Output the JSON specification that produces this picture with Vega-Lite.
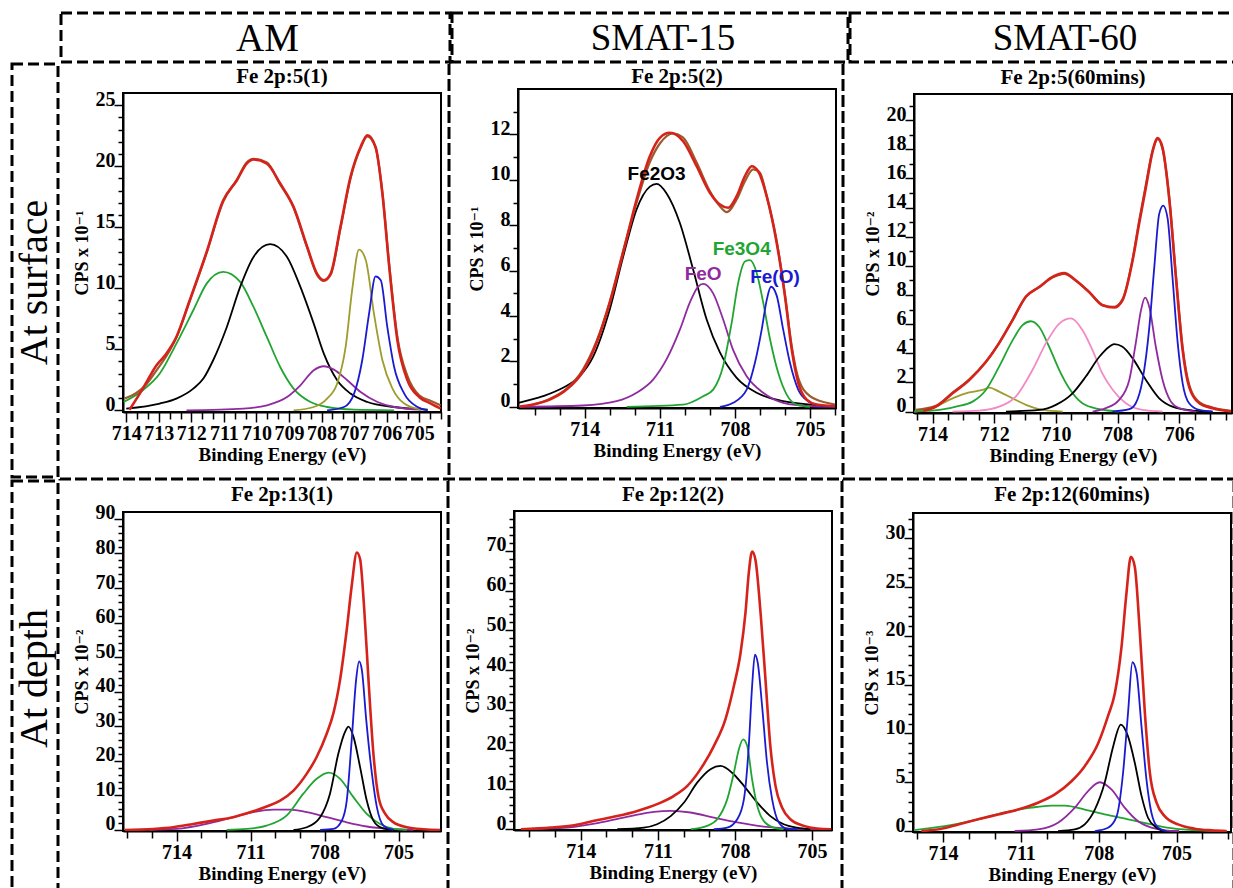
{
  "$schema": "https://vega.github.io/schema/vega-lite/v6.json",
  "padding": {"left": 10, "top": 11, "right": 0, "bottom": 0},
  "background": "white",
  "spacing": -3,
  "datasets": {
    "blank": [{"name": ""}],
    "p1": [
      {"comp":"green","be":714.08,"cps":0.68},{"comp":"green","be":713.49,"cps":1.64},{"comp":"green","be":712.97,"cps":3.01},{"comp":"green","be":712.46,"cps":5.46},{"comp":"green","be":711.94,"cps":8.2},{"comp":"green","be":711.53,"cps":10.38},{"comp":"green","be":711.02,"cps":11.34},{"comp":"green","be":710.5,"cps":10.52},{"comp":"green","be":710.09,"cps":8.47},{"comp":"green","be":709.68,"cps":6.01},{"comp":"green","be":709.27,"cps":3.55},{"comp":"green","be":708.86,"cps":1.78},{"comp":"green","be":708.34,"cps":0.68},{"comp":"green","be":707.83,"cps":0.27},{"comp":"green","be":707.0,"cps":0.05},{"comp":"green","be":705.77,"cps":0},
      {"comp":"black","be":714.0,"cps":0.14},{"comp":"black","be":712.97,"cps":0.55},{"comp":"black","be":712.46,"cps":0.96},{"comp":"black","be":711.94,"cps":1.78},{"comp":"black","be":711.63,"cps":2.6},{"comp":"black","be":711.33,"cps":4.1},{"comp":"black","be":710.91,"cps":6.83},{"comp":"black","be":710.5,"cps":10.11},{"comp":"black","be":710.09,"cps":12.57},{"comp":"black","be":709.58,"cps":13.61},{"comp":"black","be":709.06,"cps":12.57},{"comp":"black","be":708.65,"cps":10.11},{"comp":"black","be":708.24,"cps":7.1},{"comp":"black","be":707.93,"cps":4.64},{"comp":"black","be":707.52,"cps":2.46},{"comp":"black","be":707.11,"cps":1.37},{"comp":"black","be":706.59,"cps":0.68},{"comp":"black","be":705.77,"cps":0.27},{"comp":"black","be":704.74,"cps":0.05},
      {"comp":"purple","be":712.15,"cps":0},{"comp":"purple","be":710.4,"cps":0.14},{"comp":"purple","be":709.68,"cps":0.41},{"comp":"purple","be":709.06,"cps":1.09},{"comp":"purple","be":708.65,"cps":2.05},{"comp":"purple","be":708.24,"cps":3.28},{"comp":"purple","be":707.93,"cps":3.61},{"comp":"purple","be":707.62,"cps":3.33},{"comp":"purple","be":707.21,"cps":2.46},{"comp":"purple","be":706.8,"cps":1.5},{"comp":"purple","be":706.28,"cps":0.68},{"comp":"purple","be":705.77,"cps":0.27},{"comp":"purple","be":704.95,"cps":0.05},
      {"comp":"olive","be":708.86,"cps":0},{"comp":"olive","be":708.24,"cps":0.27},{"comp":"olive","be":707.83,"cps":0.96},{"comp":"olive","be":707.52,"cps":2.19},{"comp":"olive","be":707.26,"cps":5.19},{"comp":"olive","be":707.06,"cps":9.84},{"comp":"olive","be":706.85,"cps":13.17},{"comp":"olive","be":706.64,"cps":12.3},{"comp":"olive","be":706.39,"cps":7.92},{"comp":"olive","be":706.13,"cps":4.1},{"comp":"olive","be":705.82,"cps":1.78},{"comp":"olive","be":705.46,"cps":0.55},{"comp":"olive","be":704.95,"cps":0.05},
      {"comp":"blue","be":707.83,"cps":0},{"comp":"blue","be":707.31,"cps":0.27},{"comp":"blue","be":707.0,"cps":1.37},{"comp":"blue","be":706.75,"cps":4.1},{"comp":"blue","be":706.54,"cps":7.92},{"comp":"blue","be":706.34,"cps":10.98},{"comp":"blue","be":706.18,"cps":10.66},{"comp":"blue","be":705.98,"cps":6.83},{"comp":"blue","be":705.77,"cps":3.55},{"comp":"blue","be":705.46,"cps":1.37},{"comp":"blue","be":705.05,"cps":0.27},{"comp":"blue","be":704.74,"cps":0},
      {"comp":"brown","be":714.05,"cps":0.96},{"comp":"brown","be":713.69,"cps":1.42},{"comp":"brown","be":713.38,"cps":2.13},{"comp":"brown","be":713.07,"cps":3.28},{"comp":"brown","be":712.77,"cps":4.43},{"comp":"brown","be":712.46,"cps":5.96},{"comp":"brown","be":712.05,"cps":8.95},{"comp":"brown","be":711.53,"cps":12.9},{"comp":"brown","be":711.02,"cps":17.1},{"comp":"brown","be":710.6,"cps":18.9},{"comp":"brown","be":710.3,"cps":20.3},{"comp":"brown","be":710.09,"cps":20.6},{"comp":"brown","be":709.68,"cps":20.3},{"comp":"brown","be":709.27,"cps":18.5},{"comp":"brown","be":708.86,"cps":16.6},{"comp":"brown","be":708.44,"cps":13.3},{"comp":"brown","be":708.14,"cps":11.1},{"comp":"brown","be":707.93,"cps":10.6},{"comp":"brown","be":707.72,"cps":11.1},{"comp":"brown","be":707.42,"cps":14.9},{"comp":"brown","be":707.11,"cps":19.0},{"comp":"brown","be":706.8,"cps":21.5},{"comp":"brown","be":706.59,"cps":22.45},{"comp":"brown","be":706.34,"cps":21.5},{"comp":"brown","be":706.13,"cps":17.8},{"comp":"brown","be":705.92,"cps":11.9},{"comp":"brown","be":705.67,"cps":6.0},{"comp":"brown","be":705.36,"cps":2.8},{"comp":"brown","be":705.0,"cps":1.23},{"comp":"brown","be":704.64,"cps":0.77},{"comp":"brown","be":704.34,"cps":0.41},
      {"comp":"red","be":713.9,"cps":0.05},{"comp":"red","be":713.49,"cps":1.78},{"comp":"red","be":713.07,"cps":3.69},{"comp":"red","be":712.77,"cps":4.64},{"comp":"red","be":712.46,"cps":6.01},{"comp":"red","be":712.05,"cps":9.02},{"comp":"red","be":711.53,"cps":12.98},{"comp":"red","be":711.02,"cps":17.21},{"comp":"red","be":710.6,"cps":18.85},{"comp":"red","be":710.3,"cps":20.22},{"comp":"red","be":710.09,"cps":20.55},{"comp":"red","be":709.68,"cps":20.22},{"comp":"red","be":709.27,"cps":18.58},{"comp":"red","be":708.86,"cps":16.67},{"comp":"red","be":708.44,"cps":13.39},{"comp":"red","be":708.14,"cps":11.2},{"comp":"red","be":707.93,"cps":10.66},{"comp":"red","be":707.72,"cps":11.2},{"comp":"red","be":707.42,"cps":15.03},{"comp":"red","be":707.11,"cps":19.13},{"comp":"red","be":706.8,"cps":21.58},{"comp":"red","be":706.59,"cps":22.54},{"comp":"red","be":706.34,"cps":21.58},{"comp":"red","be":706.13,"cps":17.76},{"comp":"red","be":705.92,"cps":11.75},{"comp":"red","be":705.67,"cps":5.74},{"comp":"red","be":705.36,"cps":2.46},{"comp":"red","be":705.0,"cps":1.09},{"comp":"red","be":704.64,"cps":0.55},{"comp":"red","be":704.34,"cps":0.14}
    ],
    "p2": [
      {"comp":"black","be":716.65,"cps":0.18},{"comp":"black","be":715.67,"cps":0.47},{"comp":"black","be":714.87,"cps":0.84},{"comp":"black","be":714.2,"cps":1.35},{"comp":"black","be":713.67,"cps":2.2},{"comp":"black","be":713.0,"cps":4.3},{"comp":"black","be":712.47,"cps":6.6},{"comp":"black","be":711.93,"cps":8.7},{"comp":"black","be":711.4,"cps":9.7},{"comp":"black","be":711.13,"cps":9.82},{"comp":"black","be":710.73,"cps":9.4},{"comp":"black","be":710.2,"cps":8.1},{"comp":"black","be":709.67,"cps":6.05},{"comp":"black","be":709.13,"cps":3.85},{"comp":"black","be":708.6,"cps":2.4},{"comp":"black","be":707.93,"cps":1.28},{"comp":"black","be":707.13,"cps":0.62},{"comp":"black","be":706.07,"cps":0.25},{"comp":"black","be":705.0,"cps":0.1},{"comp":"black","be":704.07,"cps":0.03},
      {"comp":"purple","be":716.6,"cps":0},{"comp":"purple","be":714.07,"cps":0.06},{"comp":"purple","be":712.73,"cps":0.25},{"comp":"purple","be":711.93,"cps":0.62},{"comp":"purple","be":711.27,"cps":1.2},{"comp":"purple","be":710.73,"cps":2.1},{"comp":"purple","be":710.2,"cps":3.4},{"comp":"purple","be":709.8,"cps":4.6},{"comp":"purple","be":709.47,"cps":5.3},{"comp":"purple","be":709.27,"cps":5.42},{"comp":"purple","be":708.87,"cps":5.0},{"comp":"purple","be":708.47,"cps":3.85},{"comp":"purple","be":708.07,"cps":2.5},{"comp":"purple","be":707.53,"cps":1.35},{"comp":"purple","be":706.87,"cps":0.62},{"comp":"purple","be":706.07,"cps":0.18},{"comp":"purple","be":705.0,"cps":0.03},{"comp":"purple","be":704.0,"cps":0},
      {"comp":"green","be":712.33,"cps":0},{"comp":"green","be":710.07,"cps":0.1},{"comp":"green","be":709.27,"cps":0.47},{"comp":"green","be":708.87,"cps":0.76},{"comp":"green","be":708.47,"cps":1.8},{"comp":"green","be":708.13,"cps":3.7},{"comp":"green","be":707.87,"cps":5.46},{"comp":"green","be":707.6,"cps":6.4},{"comp":"green","be":707.4,"cps":6.46},{"comp":"green","be":707.13,"cps":5.9},{"comp":"green","be":706.87,"cps":4.6},{"comp":"green","be":706.6,"cps":3.0},{"comp":"green","be":706.27,"cps":1.5},{"comp":"green","be":705.93,"cps":0.54},{"comp":"green","be":705.53,"cps":0.1},{"comp":"green","be":705.0,"cps":0},
      {"comp":"blue","be":708.6,"cps":0},{"comp":"blue","be":708.07,"cps":0.18},{"comp":"blue","be":707.53,"cps":0.76},{"comp":"blue","be":707.2,"cps":1.94},{"comp":"blue","be":706.93,"cps":3.4},{"comp":"blue","be":706.73,"cps":4.7},{"comp":"blue","be":706.56,"cps":5.29},{"comp":"blue","be":706.33,"cps":4.9},{"comp":"blue","be":706.07,"cps":3.4},{"comp":"blue","be":705.8,"cps":1.94},{"comp":"blue","be":705.47,"cps":0.76},{"comp":"blue","be":705.07,"cps":0.25},{"comp":"blue","be":704.6,"cps":0.06},{"comp":"blue","be":704.0,"cps":0},
      {"comp":"brown","be":716.07,"cps":0.1},{"comp":"brown","be":715.4,"cps":0.35},{"comp":"brown","be":714.73,"cps":0.79},{"comp":"brown","be":714.07,"cps":1.65},{"comp":"brown","be":713.53,"cps":2.89},{"comp":"brown","be":713.0,"cps":4.65},{"comp":"brown","be":712.47,"cps":6.86},{"comp":"brown","be":711.93,"cps":8.99},{"comp":"brown","be":711.4,"cps":10.78},{"comp":"brown","be":711.0,"cps":11.6},{"comp":"brown","be":710.47,"cps":12.04},{"comp":"brown","be":710.07,"cps":11.86},{"comp":"brown","be":709.53,"cps":10.76},{"comp":"brown","be":709.0,"cps":9.5},{"comp":"brown","be":708.6,"cps":8.84},{"comp":"brown","be":708.33,"cps":8.58},{"comp":"brown","be":707.93,"cps":9.13},{"comp":"brown","be":707.6,"cps":9.94},{"comp":"brown","be":707.27,"cps":10.46},{"comp":"brown","be":707.0,"cps":10.31},{"comp":"brown","be":706.73,"cps":9.28},{"comp":"brown","be":706.33,"cps":7.3},{"comp":"brown","be":706.0,"cps":4.95},{"comp":"brown","be":705.73,"cps":2.67},{"comp":"brown","be":705.47,"cps":1.28},{"comp":"brown","be":705.0,"cps":0.47},{"comp":"brown","be":704.33,"cps":0.18},{"comp":"brown","be":704.0,"cps":0.1},
      {"comp":"red","be":716.6,"cps":0.01},{"comp":"red","be":716.07,"cps":0.1},{"comp":"red","be":715.4,"cps":0.32},{"comp":"red","be":714.73,"cps":0.76},{"comp":"red","be":714.07,"cps":1.57},{"comp":"red","be":713.53,"cps":2.82},{"comp":"red","be":713.0,"cps":4.58},{"comp":"red","be":712.47,"cps":6.78},{"comp":"red","be":711.93,"cps":9.13},{"comp":"red","be":711.4,"cps":11.04},{"comp":"red","be":711.0,"cps":11.85},{"comp":"red","be":710.6,"cps":12.07},{"comp":"red","be":710.07,"cps":11.7},{"comp":"red","be":709.53,"cps":10.6},{"comp":"red","be":709.0,"cps":9.43},{"comp":"red","be":708.6,"cps":8.91},{"comp":"red","be":708.27,"cps":8.77},{"comp":"red","be":707.93,"cps":9.28},{"comp":"red","be":707.6,"cps":10.16},{"comp":"red","be":707.33,"cps":10.6},{"comp":"red","be":707.07,"cps":10.38},{"comp":"red","be":706.73,"cps":9.28},{"comp":"red","be":706.33,"cps":7.22},{"comp":"red","be":706.0,"cps":4.88},{"comp":"red","be":705.73,"cps":2.53},{"comp":"red","be":705.47,"cps":1.06},{"comp":"red","be":705.13,"cps":0.32},{"comp":"red","be":704.73,"cps":0.1},{"comp":"red","be":704.0,"cps":0.03}
    ],
    "p2lab": [
      {"label":"Fe2O3","comp":"black","be":711.13,"cps":10.25},
      {"label":"FeO","comp":"purple","be":709.27,"cps":5.83},
      {"label":"Fe3O4","comp":"green","be":707.73,"cps":6.96},
      {"label":"Fe(O)","comp":"blue","be":706.4,"cps":5.73}
    ],
    "p3": [
      {"comp":"olive","be":714.59,"cps":0},{"comp":"olive","be":714.0,"cps":0.23},{"comp":"olive","be":713.46,"cps":0.8},{"comp":"olive","be":712.92,"cps":1.25},{"comp":"olive","be":712.38,"cps":1.48},{"comp":"olive","be":712.16,"cps":1.64},{"comp":"olive","be":711.84,"cps":1.37},{"comp":"olive","be":711.4,"cps":0.9},{"comp":"olive","be":710.97,"cps":0.46},{"comp":"olive","be":710.43,"cps":0.11},{"comp":"olive","be":709.78,"cps":0},
      {"comp":"green","be":714.59,"cps":0},{"comp":"green","be":713.78,"cps":0.11},{"comp":"green","be":713.24,"cps":0.34},{"comp":"green","be":712.7,"cps":0.68},{"comp":"green","be":712.27,"cps":1.48},{"comp":"green","be":711.84,"cps":3.08},{"comp":"green","be":711.4,"cps":4.9},{"comp":"green","be":711.08,"cps":5.93},{"comp":"green","be":710.81,"cps":6.2},{"comp":"green","be":710.54,"cps":5.8},{"comp":"green","be":710.22,"cps":4.45},{"comp":"green","be":709.89,"cps":2.85},{"comp":"green","be":709.57,"cps":1.6},{"comp":"green","be":709.14,"cps":0.57},{"comp":"green","be":708.59,"cps":0.16},{"comp":"green","be":707.95,"cps":0},
      {"comp":"pink","be":713.35,"cps":0},{"comp":"pink","be":712.49,"cps":0.07},{"comp":"pink","be":711.84,"cps":0.34},{"comp":"pink","be":711.3,"cps":1.03},{"comp":"pink","be":710.76,"cps":2.85},{"comp":"pink","be":710.32,"cps":4.7},{"comp":"pink","be":709.89,"cps":6.04},{"comp":"pink","be":709.51,"cps":6.39},{"comp":"pink","be":709.14,"cps":5.6},{"comp":"pink","be":708.81,"cps":4.2},{"comp":"pink","be":708.49,"cps":2.6},{"comp":"pink","be":708.16,"cps":1.5},{"comp":"pink","be":707.73,"cps":0.57},{"comp":"pink","be":707.19,"cps":0.11},{"comp":"pink","be":706.54,"cps":0},
      {"comp":"black","be":711.62,"cps":0},{"comp":"black","be":710.54,"cps":0.11},{"comp":"black","be":710.0,"cps":0.46},{"comp":"black","be":709.46,"cps":1.25},{"comp":"black","be":709.03,"cps":2.4},{"comp":"black","be":708.59,"cps":3.76},{"comp":"black","be":708.27,"cps":4.45},{"comp":"black","be":708.11,"cps":4.63},{"comp":"black","be":707.84,"cps":4.45},{"comp":"black","be":707.51,"cps":3.65},{"comp":"black","be":707.08,"cps":2.17},{"comp":"black","be":706.65,"cps":0.91},{"comp":"black","be":706.22,"cps":0.34},{"comp":"black","be":705.57,"cps":0.07},{"comp":"black","be":704.92,"cps":0},
      {"comp":"purple","be":708.81,"cps":0},{"comp":"purple","be":708.38,"cps":0.23},{"comp":"purple","be":707.95,"cps":0.8},{"comp":"purple","be":707.62,"cps":2.17},{"comp":"purple","be":707.41,"cps":4.7},{"comp":"purple","be":707.24,"cps":6.96},{"comp":"purple","be":707.11,"cps":7.82},{"comp":"purple","be":706.97,"cps":7.18},{"comp":"purple","be":706.76,"cps":4.45},{"comp":"purple","be":706.54,"cps":2.17},{"comp":"purple","be":706.27,"cps":0.68},{"comp":"purple","be":706.0,"cps":0.23},{"comp":"purple","be":705.46,"cps":0},
      {"comp":"blue","be":708.16,"cps":0},{"comp":"blue","be":707.62,"cps":0.16},{"comp":"blue","be":707.41,"cps":0.57},{"comp":"blue","be":707.19,"cps":2.17},{"comp":"blue","be":706.97,"cps":5.8},{"comp":"blue","be":706.81,"cps":9.9},{"comp":"blue","be":706.65,"cps":13.57},{"comp":"blue","be":706.52,"cps":14.14},{"comp":"blue","be":706.38,"cps":13.3},{"comp":"blue","be":706.22,"cps":9.24},{"comp":"blue","be":706.05,"cps":4.7},{"comp":"blue","be":705.89,"cps":1.94},{"comp":"blue","be":705.68,"cps":0.57},{"comp":"blue","be":705.35,"cps":0.11},{"comp":"blue","be":704.92,"cps":0},
      {"comp":"brown","be":714.54,"cps":0.12},{"comp":"brown","be":713.89,"cps":0.4},{"comp":"brown","be":713.35,"cps":1.3},{"comp":"brown","be":712.81,"cps":2.2},{"comp":"brown","be":712.27,"cps":3.42},{"comp":"brown","be":711.84,"cps":4.72},{"comp":"brown","be":711.4,"cps":6.3},{"comp":"brown","be":710.97,"cps":7.88},{"comp":"brown","be":710.54,"cps":8.55},{"comp":"brown","be":710.11,"cps":9.2},{"comp":"brown","be":709.73,"cps":9.45},{"comp":"brown","be":709.35,"cps":8.98},{"comp":"brown","be":708.92,"cps":8.2},{"comp":"brown","be":708.49,"cps":7.32},{"comp":"brown","be":708.11,"cps":7.18},{"comp":"brown","be":707.84,"cps":7.7},{"comp":"brown","be":707.51,"cps":10.5},{"comp":"brown","be":707.3,"cps":13.1},{"comp":"brown","be":707.08,"cps":15.6},{"comp":"brown","be":706.86,"cps":17.95},{"comp":"brown","be":706.7,"cps":18.7},{"comp":"brown","be":706.54,"cps":18.0},{"comp":"brown","be":706.32,"cps":14.6},{"comp":"brown","be":706.11,"cps":9.4},{"comp":"brown","be":705.89,"cps":4.4},{"comp":"brown","be":705.68,"cps":1.85},{"comp":"brown","be":705.35,"cps":0.65},{"comp":"brown","be":704.92,"cps":0.28},{"comp":"brown","be":704.32,"cps":0.05},
      {"comp":"red","be":714.3,"cps":0.05},{"comp":"red","be":713.89,"cps":0.34},{"comp":"red","be":713.35,"cps":1.25},{"comp":"red","be":712.81,"cps":2.17},{"comp":"red","be":712.27,"cps":3.4},{"comp":"red","be":711.84,"cps":4.7},{"comp":"red","be":711.4,"cps":6.3},{"comp":"red","be":710.97,"cps":7.9},{"comp":"red","be":710.54,"cps":8.55},{"comp":"red","be":710.11,"cps":9.24},{"comp":"red","be":709.73,"cps":9.5},{"comp":"red","be":709.35,"cps":9.0},{"comp":"red","be":708.92,"cps":8.2},{"comp":"red","be":708.49,"cps":7.3},{"comp":"red","be":708.11,"cps":7.14},{"comp":"red","be":707.84,"cps":7.64},{"comp":"red","be":707.51,"cps":10.4},{"comp":"red","be":707.3,"cps":12.9},{"comp":"red","be":707.08,"cps":15.4},{"comp":"red","be":706.86,"cps":17.9},{"comp":"red","be":706.7,"cps":18.77},{"comp":"red","be":706.54,"cps":18.1},{"comp":"red","be":706.32,"cps":14.5},{"comp":"red","be":706.11,"cps":9.24},{"comp":"red","be":705.89,"cps":4.2},{"comp":"red","be":705.68,"cps":1.7},{"comp":"red","be":705.35,"cps":0.57},{"comp":"red","be":704.92,"cps":0.23},{"comp":"red","be":704.32,"cps":0}
    ],
    "p4": [
      {"comp":"purple","be":715.1,"cps":0},{"comp":"purple","be":714.0,"cps":0.3},{"comp":"purple","be":712.78,"cps":1.75},{"comp":"purple","be":711.7,"cps":3.7},{"comp":"purple","be":710.89,"cps":5.14},{"comp":"purple","be":710.08,"cps":5.9},{"comp":"purple","be":709.4,"cps":5.9},{"comp":"purple","be":708.72,"cps":5.14},{"comp":"purple","be":707.91,"cps":3.7},{"comp":"purple","be":707.1,"cps":2.2},{"comp":"purple","be":706.29,"cps":1.0},{"comp":"purple","be":705.34,"cps":0.3},{"comp":"purple","be":704.39,"cps":0},
      {"comp":"green","be":711.97,"cps":0},{"comp":"green","be":711.16,"cps":0.3},{"comp":"green","be":710.35,"cps":1.26},{"comp":"green","be":709.53,"cps":4.2},{"comp":"green","be":708.86,"cps":10.5},{"comp":"green","be":708.32,"cps":14.8},{"comp":"green","be":707.84,"cps":16.6},{"comp":"green","be":707.37,"cps":14.8},{"comp":"green","be":706.83,"cps":9.5},{"comp":"green","be":706.29,"cps":4.65},{"comp":"green","be":705.75,"cps":1.75},{"comp":"green","be":705.2,"cps":0.3},{"comp":"green","be":704.66,"cps":0},
      {"comp":"black","be":709.26,"cps":0},{"comp":"black","be":708.72,"cps":0.78},{"comp":"black","be":708.18,"cps":3.7},{"comp":"black","be":707.78,"cps":10.5},{"comp":"black","be":707.44,"cps":22.1},{"comp":"black","be":707.17,"cps":28.4},{"comp":"black","be":707.03,"cps":29.9},{"comp":"black","be":706.83,"cps":27.0},{"comp":"black","be":706.56,"cps":18.2},{"comp":"black","be":706.29,"cps":8.5},{"comp":"black","be":706.02,"cps":2.7},{"comp":"black","be":705.68,"cps":0.6},{"comp":"black","be":705.2,"cps":0},
      {"comp":"blue","be":708.18,"cps":0},{"comp":"blue","be":707.64,"cps":0.3},{"comp":"blue","be":707.3,"cps":2.7},{"comp":"blue","be":707.1,"cps":8.5},{"comp":"blue","be":706.9,"cps":26.0},{"comp":"blue","be":706.72,"cps":43.5},{"comp":"blue","be":706.6,"cps":48.8},{"comp":"blue","be":706.49,"cps":46.4},{"comp":"blue","be":706.31,"cps":31.8},{"comp":"blue","be":706.08,"cps":16.3},{"comp":"blue","be":705.88,"cps":6.6},{"comp":"blue","be":705.61,"cps":1.26},{"comp":"blue","be":705.2,"cps":0},
      {"comp":"red","be":716.1,"cps":0},{"comp":"red","be":714.95,"cps":0.3},{"comp":"red","be":714.14,"cps":0.8},{"comp":"red","be":713.32,"cps":1.75},{"comp":"red","be":712.51,"cps":2.7},{"comp":"red","be":711.7,"cps":3.7},{"comp":"red","be":711.02,"cps":5.1},{"comp":"red","be":710.35,"cps":6.8},{"comp":"red","be":709.8,"cps":8.5},{"comp":"red","be":709.26,"cps":11.4},{"comp":"red","be":708.72,"cps":16.3},{"comp":"red","be":708.32,"cps":21.1},{"comp":"red","be":707.91,"cps":27.9},{"comp":"red","be":707.64,"cps":33.8},{"comp":"red","be":707.37,"cps":43.5},{"comp":"red","be":707.1,"cps":58.0},{"comp":"red","be":706.9,"cps":70.6},{"comp":"red","be":706.69,"cps":80.3},{"comp":"red","be":706.56,"cps":78.4},{"comp":"red","be":706.4,"cps":64.8},{"comp":"red","be":706.22,"cps":43.5},{"comp":"red","be":706.02,"cps":22.1},{"comp":"red","be":705.81,"cps":9.5},{"comp":"red","be":705.54,"cps":4.65},{"comp":"red","be":705.2,"cps":2.2},{"comp":"red","be":704.66,"cps":0.78},{"comp":"red","be":703.99,"cps":0.2},{"comp":"red","be":703.31,"cps":0}
    ],
    "p5": [
      {"comp":"purple","be":716.33,"cps":0},{"comp":"purple","be":714.52,"cps":0.4},{"comp":"purple","be":713.22,"cps":1.7},{"comp":"purple","be":712.06,"cps":3.3},{"comp":"purple","be":711.15,"cps":4.35},{"comp":"purple","be":710.5,"cps":4.6},{"comp":"purple","be":709.73,"cps":4.2},{"comp":"purple","be":708.82,"cps":2.9},{"comp":"purple","be":707.91,"cps":1.7},{"comp":"purple","be":706.88,"cps":0.67},{"comp":"purple","be":705.84,"cps":0.17},{"comp":"purple","be":704.8,"cps":0},
      {"comp":"black","be":712.58,"cps":0},{"comp":"black","be":711.54,"cps":0.4},{"comp":"black","be":711.03,"cps":1.25},{"comp":"black","be":710.5,"cps":3.3},{"comp":"black","be":709.98,"cps":6.7},{"comp":"black","be":709.47,"cps":11.7},{"comp":"black","be":708.95,"cps":15.1},{"comp":"black","be":708.56,"cps":15.9},{"comp":"black","be":708.11,"cps":14.2},{"comp":"black","be":707.65,"cps":10.9},{"comp":"black","be":707.13,"cps":6.7},{"comp":"black","be":706.62,"cps":3.3},{"comp":"black","be":706.1,"cps":1.25},{"comp":"black","be":705.58,"cps":0.4},{"comp":"black","be":705.06,"cps":0},
      {"comp":"green","be":709.72,"cps":0},{"comp":"green","be":709.08,"cps":0.84},{"comp":"green","be":708.69,"cps":2.5},{"comp":"green","be":708.3,"cps":7.5},{"comp":"green","be":708.04,"cps":14.2},{"comp":"green","be":707.85,"cps":20.0},{"comp":"green","be":707.68,"cps":22.6},{"comp":"green","be":707.52,"cps":20.9},{"comp":"green","be":707.33,"cps":12.5},{"comp":"green","be":707.13,"cps":5.9},{"comp":"green","be":706.88,"cps":2.1},{"comp":"green","be":706.49,"cps":0.4},{"comp":"green","be":706.1,"cps":0},
      {"comp":"blue","be":708.82,"cps":0},{"comp":"blue","be":708.3,"cps":0.4},{"comp":"blue","be":707.91,"cps":2.5},{"comp":"blue","be":707.65,"cps":7.5},{"comp":"blue","be":707.46,"cps":20.9},{"comp":"blue","be":707.33,"cps":36.0},{"comp":"blue","be":707.22,"cps":43.9},{"comp":"blue","be":707.11,"cps":41.8},{"comp":"blue","be":706.94,"cps":30.9},{"comp":"blue","be":706.75,"cps":16.7},{"comp":"blue","be":706.55,"cps":7.5},{"comp":"blue","be":706.29,"cps":1.7},{"comp":"blue","be":705.97,"cps":0.17},{"comp":"blue","be":705.58,"cps":0},
      {"comp":"red","be":716.33,"cps":0},{"comp":"red","be":715.17,"cps":0.4},{"comp":"red","be":714.26,"cps":1.0},{"comp":"red","be":713.48,"cps":2.1},{"comp":"red","be":712.58,"cps":3.3},{"comp":"red","be":711.8,"cps":4.6},{"comp":"red","be":711.03,"cps":6.3},{"comp":"red","be":710.37,"cps":8.4},{"comp":"red","be":709.85,"cps":10.9},{"comp":"red","be":709.34,"cps":15.1},{"comp":"red","be":708.82,"cps":20.9},{"comp":"red","be":708.37,"cps":27.6},{"comp":"red","be":708.04,"cps":36.0},{"comp":"red","be":707.78,"cps":44.3},{"comp":"red","be":707.59,"cps":54.3},{"comp":"red","be":707.46,"cps":64.4},{"comp":"red","be":707.33,"cps":69.8},{"comp":"red","be":707.2,"cps":67.7},{"comp":"red","be":707.0,"cps":54.3},{"comp":"red","be":706.81,"cps":37.6},{"comp":"red","be":706.62,"cps":20.9},{"comp":"red","be":706.42,"cps":10.9},{"comp":"red","be":706.16,"cps":5.4},{"comp":"red","be":705.84,"cps":2.5},{"comp":"red","be":705.32,"cps":0.84},{"comp":"red","be":704.8,"cps":0.17},{"comp":"red","be":704.25,"cps":0}
    ],
    "p6": [
      {"comp":"green","be":715.1,"cps":0.1},{"comp":"green","be":713.94,"cps":0.5},{"comp":"green","be":712.65,"cps":1.2},{"comp":"green","be":711.62,"cps":1.9},{"comp":"green","be":710.59,"cps":2.4},{"comp":"green","be":709.82,"cps":2.6},{"comp":"green","be":709.31,"cps":2.6},{"comp":"green","be":708.54,"cps":2.2},{"comp":"green","be":707.77,"cps":1.7},{"comp":"green","be":706.87,"cps":1.2},{"comp":"green","be":705.97,"cps":0.68},{"comp":"green","be":705.07,"cps":0.24},{"comp":"green","be":704.17,"cps":0.07},{"comp":"green","be":703.07,"cps":0},
      {"comp":"purple","be":711.24,"cps":0},{"comp":"purple","be":710.34,"cps":0.17},{"comp":"purple","be":709.57,"cps":0.85},{"comp":"purple","be":708.92,"cps":2.4},{"comp":"purple","be":708.41,"cps":4.1},{"comp":"purple","be":707.96,"cps":5.0},{"comp":"purple","be":707.51,"cps":4.26},{"comp":"purple","be":707.0,"cps":2.4},{"comp":"purple","be":706.48,"cps":1.0},{"comp":"purple","be":705.97,"cps":0.34},{"comp":"purple","be":705.45,"cps":0.07},{"comp":"purple","be":704.9,"cps":0},
      {"comp":"black","be":709.57,"cps":0},{"comp":"black","be":708.92,"cps":0.17},{"comp":"black","be":708.54,"cps":0.68},{"comp":"black","be":708.15,"cps":2.2},{"comp":"black","be":707.77,"cps":4.95},{"comp":"black","be":707.44,"cps":8.7},{"comp":"black","be":707.15,"cps":10.9},{"comp":"black","be":706.87,"cps":9.7},{"comp":"black","be":706.61,"cps":7.0},{"comp":"black","be":706.35,"cps":3.6},{"comp":"black","be":706.1,"cps":1.36},{"comp":"black","be":705.77,"cps":0.34},{"comp":"black","be":705.45,"cps":0},
      {"comp":"blue","be":708.15,"cps":0},{"comp":"blue","be":707.64,"cps":0.34},{"comp":"blue","be":707.31,"cps":1.5},{"comp":"blue","be":707.06,"cps":6.0},{"comp":"blue","be":706.87,"cps":12.1},{"comp":"blue","be":706.7,"cps":17.3},{"comp":"blue","be":706.54,"cps":16.2},{"comp":"blue","be":706.35,"cps":10.7},{"comp":"blue","be":706.16,"cps":5.3},{"comp":"blue","be":705.97,"cps":1.9},{"comp":"blue","be":705.71,"cps":0.34},{"comp":"blue","be":705.39,"cps":0},
      {"comp":"red","be":714.84,"cps":0},{"comp":"red","be":714.06,"cps":0.24},{"comp":"red","be":713.42,"cps":0.68},{"comp":"red","be":712.65,"cps":1.2},{"comp":"red","be":711.88,"cps":1.7},{"comp":"red","be":711.11,"cps":2.2},{"comp":"red","be":710.34,"cps":2.9},{"comp":"red","be":709.69,"cps":3.75},{"comp":"red","be":709.05,"cps":5.1},{"comp":"red","be":708.54,"cps":6.65},{"comp":"red","be":708.02,"cps":9.0},{"comp":"red","be":707.64,"cps":11.8},{"comp":"red","be":707.38,"cps":14.1},{"comp":"red","be":707.12,"cps":18.9},{"comp":"red","be":706.93,"cps":24.4},{"comp":"red","be":706.76,"cps":28.1},{"comp":"red","be":706.61,"cps":27.1},{"comp":"red","be":706.42,"cps":20.6},{"comp":"red","be":706.22,"cps":12.1},{"comp":"red","be":706.03,"cps":6.0},{"comp":"red","be":705.77,"cps":2.9},{"comp":"red","be":705.45,"cps":1.5},{"comp":"red","be":704.94,"cps":0.68},{"comp":"red","be":704.3,"cps":0.24},{"comp":"red","be":703.65,"cps":0.07},{"comp":"red","be":703.07,"cps":0}
    ]
  },
  "vconcat": [
    {
      "spacing": -6,
      "hconcat": [
        {"width": 49, "height": 49, "data": {"name": "blank"}, "mark": {"type": "text", "fontSize": 0}, "encoding": {"text": {"field": "name"}}, "view": {"stroke": null}},
        {"width": 389, "height": 49, "data": {"values": [{"name": "AM"}]}, "mark": {"type": "text", "font": "Liberation Serif", "fontSize": 39, "dx": 12, "dy": 1, "color": "black"}, "encoding": {"text": {"field": "name"}}, "view": {"stroke": "black", "strokeWidth": 3, "strokeDash": [11, 5]}},
        {"width": 396, "height": 49, "data": {"values": [{"name": "SMAT-15"}]}, "mark": {"type": "text", "font": "Liberation Serif", "fontSize": 37, "dx": 13, "dy": 1, "color": "black"}, "encoding": {"text": {"field": "name"}}, "view": {"stroke": "black", "strokeWidth": 3, "strokeDash": [11, 5]}},
        {"width": 388, "height": 49, "data": {"values": [{"name": "SMAT-60"}]}, "mark": {"type": "text", "font": "Liberation Serif", "fontSize": 37, "dx": 21, "dy": 1, "color": "black"}, "encoding": {"text": {"field": "name"}}, "view": {"stroke": "black", "strokeWidth": 3, "strokeDash": [11, 5]}}
      ]
    },
    {
      "spacing": 0,
      "hconcat": [
        {"width": 46, "height": 413, "data": {"values": [{"name": "At surface"}]}, "mark": {"type": "text", "font": "Liberation Serif", "fontSize": 40, "angle": 270, "dx": -12, "color": "black"}, "encoding": {"text": {"field": "name"}}, "view": {"stroke": "black", "strokeWidth": 3, "strokeDash": [11, 5]}},
        {"width": 12, "height": 1, "data": {"name": "blank"}, "mark": {"type": "text", "fontSize": 0}, "encoding": {"text": {"field": "name"}}, "view": {"stroke": null}},
        {"spacing": 0, "vconcat": [
          {"width": 1, "height": 1, "data": {"name": "blank"}, "mark": {"type": "text", "fontSize": 0}, "encoding": {"text": {"field": "name"}}, "view": {"stroke": null}},
          {
            "width": 318, "height": 319,
            "title": {"text": "Fe 2p:5(1)", "offset": 2},
            "data": {"name": "p1"},
            "encoding": {
              "x": {"field": "be", "type": "quantitative", "scale": {"domain": [704.33, 714.1], "reverse": true, "nice": false, "zero": false},
                    "axis": {"orient": "bottom", "title": "Binding Energy (eV)", "values": [704.333,704.667,705,705.333,705.667,706,706.333,706.667,707,707.333,707.667,708,708.333,708.667,709,709.333,709.667,710,710.333,710.667,711,711.333,711.667,712,712.333,712.667,713,713.333,713.667,714],
                             "labelExpr": "abs(datum.value - round(datum.value)) < 0.01 ? format(datum.value, 'd') : ''",
                             "tickSize": {"condition": {"test": "abs(datum.value - round(datum.value)) < 0.01", "value": 10}, "value": 7},
                             "labelPadding": 1, "titlePadding": 2}},
              "y": {"field": "cps", "type": "quantitative", "scale": {"domain": [-0.14, 26], "nice": false, "zero": false},
                    "axis": {"orient": "left", "title": "CPS x 10⁻¹", "values": [0,1,2,3,4,5,6,7,8,9,10,11,12,13,14,15,16,17,18,19,20,21,22,23,24,25],
                             "labelExpr": "datum.value % 5 === 0 ? datum.label : ''",
                             "tickSize": {"condition": {"test": "datum.value % 5 === 0", "value": 9}, "value": 5},
                             "labelBaseline": "alphabetic", "labelPadding": -1, "titlePadding": 4}},
              "color": {"field": "comp", "type": "nominal", "legend": null, "scale": {"domain": ["red","brown","black","green","purple","olive","blue","pink"], "range": ["#d5231b","#9c5b2e","#000000","#21a532","#8f2a9f","#9e9c2c","#1a1ad0","#f28ac6"]}}
            },
            "layer": [
              {"transform": [{"filter": "datum.comp !== 'red' && datum.comp !== 'brown'"}], "mark": {"type": "line", "interpolate": "monotone", "strokeWidth": 1.8, "clip": true}},
              {"transform": [{"filter": "datum.comp === 'brown'"}], "mark": {"type": "line", "interpolate": "monotone", "strokeWidth": 2.2, "clip": true}},
              {"transform": [{"filter": "datum.comp === 'red'"}], "mark": {"type": "line", "interpolate": "monotone", "strokeWidth": 2.6, "clip": true}}
            ]
          }
        ]},
        {"width": 3.5, "height": 1, "data": {"name": "blank"}, "mark": {"type": "text", "fontSize": 0}, "encoding": {"text": {"field": "name"}}, "view": {"stroke": null}},
        {"width": 0.01, "height": 413, "data": {"name": "blank"}, "mark": {"type": "text", "fontSize": 0}, "encoding": {"text": {"field": "name"}}, "view": {"stroke": "black", "strokeWidth": 3, "strokeDash": [11, 5]}},
        {"width": 15.5, "height": 1, "data": {"name": "blank"}, "mark": {"type": "text", "fontSize": 0}, "encoding": {"text": {"field": "name"}}, "view": {"stroke": null}},
        {"spacing": 0, "vconcat": [
          {"width": 1, "height": 1, "data": {"name": "blank"}, "mark": {"type": "text", "fontSize": 0}, "encoding": {"text": {"field": "name"}}, "view": {"stroke": null}},
          {
            "width": 318, "height": 319,
            "title": {"text": "Fe 2p:5(2)", "offset": 2},
            "data": {"name": "p2"},
            "encoding": {
              "x": {"field": "be", "type": "quantitative", "scale": {"domain": [703.96, 716.67], "reverse": true, "nice": false, "zero": false},
                    "axis": {"orient": "bottom", "title": "Binding Energy (eV)", "values": [704,705,706,707,708,709,710,711,712,713,714,715,716],
                             "labelExpr": "(datum.value - 705) % 3 === 0 ? datum.label : ''",
                             "tickSize": {"condition": {"test": "(datum.value - 705) % 3 === 0", "value": 10}, "value": 7},
                             "labelPadding": 1, "titlePadding": 2}},
              "y": {"field": "cps", "type": "quantitative", "scale": {"domain": [-0.05, 14], "nice": false, "zero": false},
                    "axis": {"orient": "left", "title": "CPS x 10⁻¹", "values": [0,1,2,3,4,5,6,7,8,9,10,11,12,13],
                             "labelExpr": "datum.value % 2 === 0 ? datum.label : ''",
                             "tickSize": {"condition": {"test": "datum.value % 2 === 0", "value": 9}, "value": 5},
                             "labelBaseline": "alphabetic", "labelPadding": -1, "titlePadding": 4}},
              "color": {"field": "comp", "type": "nominal", "legend": null, "scale": {"domain": ["red","brown","black","green","purple","olive","blue","pink"], "range": ["#d5231b","#9c5b2e","#000000","#21a532","#8f2a9f","#9e9c2c","#1a1ad0","#f28ac6"]}}
            },
            "layer": [
              {"transform": [{"filter": "datum.comp !== 'red' && datum.comp !== 'brown'"}], "mark": {"type": "line", "interpolate": "monotone", "strokeWidth": 1.8, "clip": true}},
              {"transform": [{"filter": "datum.comp === 'brown'"}], "mark": {"type": "line", "interpolate": "monotone", "strokeWidth": 2.2, "clip": true}},
              {"transform": [{"filter": "datum.comp === 'red'"}], "mark": {"type": "line", "interpolate": "monotone", "strokeWidth": 2.6, "clip": true}},
              {"data": {"name": "p2lab"}, "mark": {"type": "text", "font": "Liberation Sans", "fontWeight": "bold", "fontSize": 19, "clip": false}, "encoding": {"text": {"field": "label"}}}
            ]
          }
        ]},
        {"width": 3.5, "height": 1, "data": {"name": "blank"}, "mark": {"type": "text", "fontSize": 0}, "encoding": {"text": {"field": "name"}}, "view": {"stroke": null}},
        {"width": 0.01, "height": 413, "data": {"name": "blank"}, "mark": {"type": "text", "fontSize": 0}, "encoding": {"text": {"field": "name"}}, "view": {"stroke": "black", "strokeWidth": 3, "strokeDash": [11, 5]}},
        {"width": 17.5, "height": 1, "data": {"name": "blank"}, "mark": {"type": "text", "fontSize": 0}, "encoding": {"text": {"field": "name"}}, "view": {"stroke": null}},
        {"spacing": 0, "vconcat": [
          {"width": 1, "height": 1, "data": {"name": "blank"}, "mark": {"type": "text", "fontSize": 0}, "encoding": {"text": {"field": "name"}}, "view": {"stroke": null}},
          {
            "width": 318, "height": 319,
            "title": {"text": "Fe 2p:5(60mins)", "offset": 2},
            "data": {"name": "p3"},
            "encoding": {
              "x": {"field": "be", "type": "quantitative", "scale": {"domain": [704.29, 714.6], "reverse": true, "nice": false, "zero": false},
                    "axis": {"orient": "bottom", "title": "Binding Energy (eV)", "values": [704.5,705,705.5,706,706.5,707,707.5,708,708.5,709,709.5,710,710.5,711,711.5,712,712.5,713,713.5,714,714.5],
                             "labelExpr": "datum.value % 2 === 0 ? format(datum.value, 'd') : ''",
                             "tickSize": {"condition": {"test": "datum.value % 2 === 0", "value": 10}, "value": 7},
                             "labelPadding": 1, "titlePadding": 2}},
              "y": {"field": "cps", "type": "quantitative", "scale": {"domain": [-0.1, 21.8], "nice": false, "zero": false},
                    "axis": {"orient": "left", "title": "CPS x 10⁻²", "values": [0,1,2,3,4,5,6,7,8,9,10,11,12,13,14,15,16,17,18,19,20,21],
                             "labelExpr": "datum.value % 2 === 0 ? datum.label : ''",
                             "tickSize": {"condition": {"test": "datum.value % 2 === 0", "value": 9}, "value": 5},
                             "labelBaseline": "alphabetic", "labelPadding": -1, "titlePadding": 4}},
              "color": {"field": "comp", "type": "nominal", "legend": null, "scale": {"domain": ["red","brown","black","green","purple","olive","blue","pink"], "range": ["#d5231b","#9c5b2e","#000000","#21a532","#8f2a9f","#9e9c2c","#1a1ad0","#f28ac6"]}}
            },
            "layer": [
              {"transform": [{"filter": "datum.comp !== 'red' && datum.comp !== 'brown'"}], "mark": {"type": "line", "interpolate": "monotone", "strokeWidth": 1.8, "clip": true}},
              {"transform": [{"filter": "datum.comp === 'brown'"}], "mark": {"type": "line", "interpolate": "monotone", "strokeWidth": 2.2, "clip": true}},
              {"transform": [{"filter": "datum.comp === 'red'"}], "mark": {"type": "line", "interpolate": "monotone", "strokeWidth": 2.6, "clip": true}}
            ]
          }
        ]},
        {"width": 0.01, "height": 413, "data": {"name": "blank"}, "mark": {"type": "text", "fontSize": 0}, "encoding": {"text": {"field": "name"}}, "view": {"stroke": "black", "strokeWidth": 3, "strokeDash": [11, 5]}}
      ]
    },
    {
      "spacing": 0,
      "hconcat": [
        {"width": 46, "height": 1, "data": {"name": "blank"}, "mark": {"type": "text", "fontSize": 0}, "encoding": {"text": {"field": "name"}}, "view": {"stroke": null}},
        {"width": 1173, "height": 0.01, "data": {"name": "blank"}, "mark": {"type": "text", "fontSize": 0}, "encoding": {"text": {"field": "name"}}, "view": {"stroke": "black", "strokeWidth": 3, "strokeDash": [11, 5]}}
      ]
    },
    {
      "spacing": 0,
      "hconcat": [
        {"width": 46, "height": 413, "data": {"values": [{"name": "At depth"}]}, "mark": {"type": "text", "font": "Liberation Serif", "fontSize": 40, "angle": 270, "dx": 9, "color": "black"}, "encoding": {"text": {"field": "name"}}, "view": {"stroke": "black", "strokeWidth": 3, "strokeDash": [11, 5]}},
        {"width": 12, "height": 1, "data": {"name": "blank"}, "mark": {"type": "text", "fontSize": 0}, "encoding": {"text": {"field": "name"}}, "view": {"stroke": null}},
        {"spacing": 0, "vconcat": [
          {"width": 1, "height": 0.5, "data": {"name": "blank"}, "mark": {"type": "text", "fontSize": 0}, "encoding": {"text": {"field": "name"}}, "view": {"stroke": null}},
          {
            "width": 318, "height": 319,
            "title": {"text": "Fe 2p:13(1)", "offset": -2},
            "data": {"name": "p4"},
            "encoding": {
              "x": {"field": "be", "type": "quantitative", "scale": {"domain": [703.28, 716.17], "reverse": true, "nice": false, "zero": false},
                    "axis": {"orient": "bottom", "title": "Binding Energy (eV)", "values": [704,705,706,707,708,709,710,711,712,713,714,715,716],
                             "labelExpr": "(datum.value - 705) % 3 === 0 ? datum.label : ''",
                             "tickSize": {"condition": {"test": "(datum.value - 705) % 3 === 0", "value": 10}, "value": 7},
                             "labelPadding": 1, "titlePadding": 2}},
              "y": {"field": "cps", "type": "quantitative", "scale": {"domain": [-0.3, 92], "nice": false, "zero": false},
                    "axis": {"orient": "left", "title": "CPS x 10⁻²", "values": [0,2,4,6,8,10,12,14,16,18,20,22,24,26,28,30,32,34,36,38,40,42,44,46,48,50,52,54,56,58,60,62,64,66,68,70,72,74,76,78,80,82,84,86,88,90],
                             "labelExpr": "datum.value % 10 === 0 ? datum.label : ''",
                             "tickSize": {"condition": {"test": "datum.value % 10 === 0", "value": 9}, "value": 5},
                             "labelBaseline": "alphabetic", "labelPadding": -1, "titlePadding": 4}},
              "color": {"field": "comp", "type": "nominal", "legend": null, "scale": {"domain": ["red","brown","black","green","purple","olive","blue","pink"], "range": ["#d5231b","#9c5b2e","#000000","#21a532","#8f2a9f","#9e9c2c","#1a1ad0","#f28ac6"]}}
            },
            "layer": [
              {"transform": [{"filter": "datum.comp !== 'red' && datum.comp !== 'brown'"}], "mark": {"type": "line", "interpolate": "monotone", "strokeWidth": 1.8, "clip": true}},
              {"transform": [{"filter": "datum.comp === 'red'"}], "mark": {"type": "line", "interpolate": "monotone", "strokeWidth": 2.6, "clip": true}}
            ]
          }
        ]},
        {"width": 3.5, "height": 1, "data": {"name": "blank"}, "mark": {"type": "text", "fontSize": 0}, "encoding": {"text": {"field": "name"}}, "view": {"stroke": null}},
        {"width": 0.01, "height": 413, "data": {"name": "blank"}, "mark": {"type": "text", "fontSize": 0}, "encoding": {"text": {"field": "name"}}, "view": {"stroke": "black", "strokeWidth": 3, "strokeDash": [11, 5]}},
        {"width": 12.5, "height": 1, "data": {"name": "blank"}, "mark": {"type": "text", "fontSize": 0}, "encoding": {"text": {"field": "name"}}, "view": {"stroke": null}},
        {"spacing": 0, "vconcat": [
          {"width": 1, "height": 0.5, "data": {"name": "blank"}, "mark": {"type": "text", "fontSize": 0}, "encoding": {"text": {"field": "name"}}, "view": {"stroke": null}},
          {
            "width": 318, "height": 319,
            "title": {"text": "Fe 2p:12(2)", "offset": -2},
            "data": {"name": "p5"},
            "encoding": {
              "x": {"field": "be", "type": "quantitative", "scale": {"domain": [704.22, 716.6], "reverse": true, "nice": false, "zero": false},
                    "axis": {"orient": "bottom", "title": "Binding Energy (eV)", "values": [705,706,707,708,709,710,711,712,713,714,715,716],
                             "labelExpr": "(datum.value - 705) % 3 === 0 ? datum.label : ''",
                             "tickSize": {"condition": {"test": "(datum.value - 705) % 3 === 0", "value": 10}, "value": 7},
                             "labelPadding": 1, "titlePadding": 2}},
              "y": {"field": "cps", "type": "quantitative", "scale": {"domain": [-0.2, 80], "nice": false, "zero": false},
                    "axis": {"orient": "left", "title": "CPS x 10⁻²", "values": [0,2,4,6,8,10,12,14,16,18,20,22,24,26,28,30,32,34,36,38,40,42,44,46,48,50,52,54,56,58,60,62,64,66,68,70,72,74,76,78],
                             "labelExpr": "datum.value % 10 === 0 ? datum.label : ''",
                             "tickSize": {"condition": {"test": "datum.value % 10 === 0", "value": 9}, "value": 5},
                             "labelBaseline": "alphabetic", "labelPadding": -1, "titlePadding": 4}},
              "color": {"field": "comp", "type": "nominal", "legend": null, "scale": {"domain": ["red","brown","black","green","purple","olive","blue","pink"], "range": ["#d5231b","#9c5b2e","#000000","#21a532","#8f2a9f","#9e9c2c","#1a1ad0","#f28ac6"]}}
            },
            "layer": [
              {"transform": [{"filter": "datum.comp !== 'red' && datum.comp !== 'brown'"}], "mark": {"type": "line", "interpolate": "monotone", "strokeWidth": 1.8, "clip": true}},
              {"transform": [{"filter": "datum.comp === 'red'"}], "mark": {"type": "line", "interpolate": "monotone", "strokeWidth": 2.6, "clip": true}}
            ]
          }
        ]},
        {"width": 6.5, "height": 1, "data": {"name": "blank"}, "mark": {"type": "text", "fontSize": 0}, "encoding": {"text": {"field": "name"}}, "view": {"stroke": null}},
        {"width": 0.01, "height": 413, "data": {"name": "blank"}, "mark": {"type": "text", "fontSize": 0}, "encoding": {"text": {"field": "name"}}, "view": {"stroke": "black", "strokeWidth": 3, "strokeDash": [11, 5]}},
        {"width": 17.5, "height": 1, "data": {"name": "blank"}, "mark": {"type": "text", "fontSize": 0}, "encoding": {"text": {"field": "name"}}, "view": {"stroke": null}},
        {"spacing": 0, "vconcat": [
          {"width": 1, "height": 0.5, "data": {"name": "blank"}, "mark": {"type": "text", "fontSize": 0}, "encoding": {"text": {"field": "name"}}, "view": {"stroke": null}},
          {
            "width": 318, "height": 319,
            "title": {"text": "Fe 2p:12(60mins)", "offset": -2},
            "data": {"name": "p6"},
            "encoding": {
              "x": {"field": "be", "type": "quantitative", "scale": {"domain": [702.9, 715.16], "reverse": true, "nice": false, "zero": false},
                    "axis": {"orient": "bottom", "title": "Binding Energy (eV)", "values": [703,704,705,706,707,708,709,710,711,712,713,714,715],
                             "labelExpr": "(datum.value - 705) % 3 === 0 ? datum.label : ''",
                             "tickSize": {"condition": {"test": "(datum.value - 705) % 3 === 0", "value": 10}, "value": 7},
                             "labelPadding": 1, "titlePadding": 2}},
              "y": {"field": "cps", "type": "quantitative", "scale": {"domain": [-0.1, 32.6], "nice": false, "zero": false},
                    "axis": {"orient": "left", "title": "CPS x 10⁻³", "values": [0,1,2,3,4,5,6,7,8,9,10,11,12,13,14,15,16,17,18,19,20,21,22,23,24,25,26,27,28,29,30,31,32],
                             "labelExpr": "datum.value % 5 === 0 ? datum.label : ''",
                             "tickSize": {"condition": {"test": "datum.value % 5 === 0", "value": 9}, "value": 5},
                             "labelBaseline": "alphabetic", "labelPadding": -1, "titlePadding": 4}},
              "color": {"field": "comp", "type": "nominal", "legend": null, "scale": {"domain": ["red","brown","black","green","purple","olive","blue","pink"], "range": ["#d5231b","#9c5b2e","#000000","#21a532","#8f2a9f","#9e9c2c","#1a1ad0","#f28ac6"]}}
            },
            "layer": [
              {"transform": [{"filter": "datum.comp !== 'red' && datum.comp !== 'brown'"}], "mark": {"type": "line", "interpolate": "monotone", "strokeWidth": 1.8, "clip": true}},
              {"transform": [{"filter": "datum.comp === 'red'"}], "mark": {"type": "line", "interpolate": "monotone", "strokeWidth": 2.6, "clip": true}}
            ]
          }
        ]},
        {"width": 0.01, "height": 413, "data": {"name": "blank"}, "mark": {"type": "text", "fontSize": 0}, "encoding": {"text": {"field": "name"}}, "view": {"stroke": "black", "strokeWidth": 3, "strokeDash": [11, 5]}}
      ]
    }
  ],
  "config": {
    "view": {"stroke": "black", "strokeWidth": 2},
    "axis": {"grid": false, "domainColor": "black", "domainWidth": 2, "tickColor": "black", "tickWidth": 1.5, "labelFont": "Liberation Serif", "labelFontWeight": "bold", "labelFontSize": 20, "labelColor": "black", "titleFont": "Liberation Serif, DejaVu Serif", "titleFontWeight": "bold", "titleColor": "black", "labelOverlap": false, "labelFlush": false},
    "axisX": {"titleFontSize": 19},
    "axisY": {"titleFontSize": 18},
    "title": {"font": "Liberation Serif", "fontSize": 21, "fontWeight": "bold", "color": "black", "frame": "group", "baseline": "bottom", "anchor": "middle"}
  }
}
